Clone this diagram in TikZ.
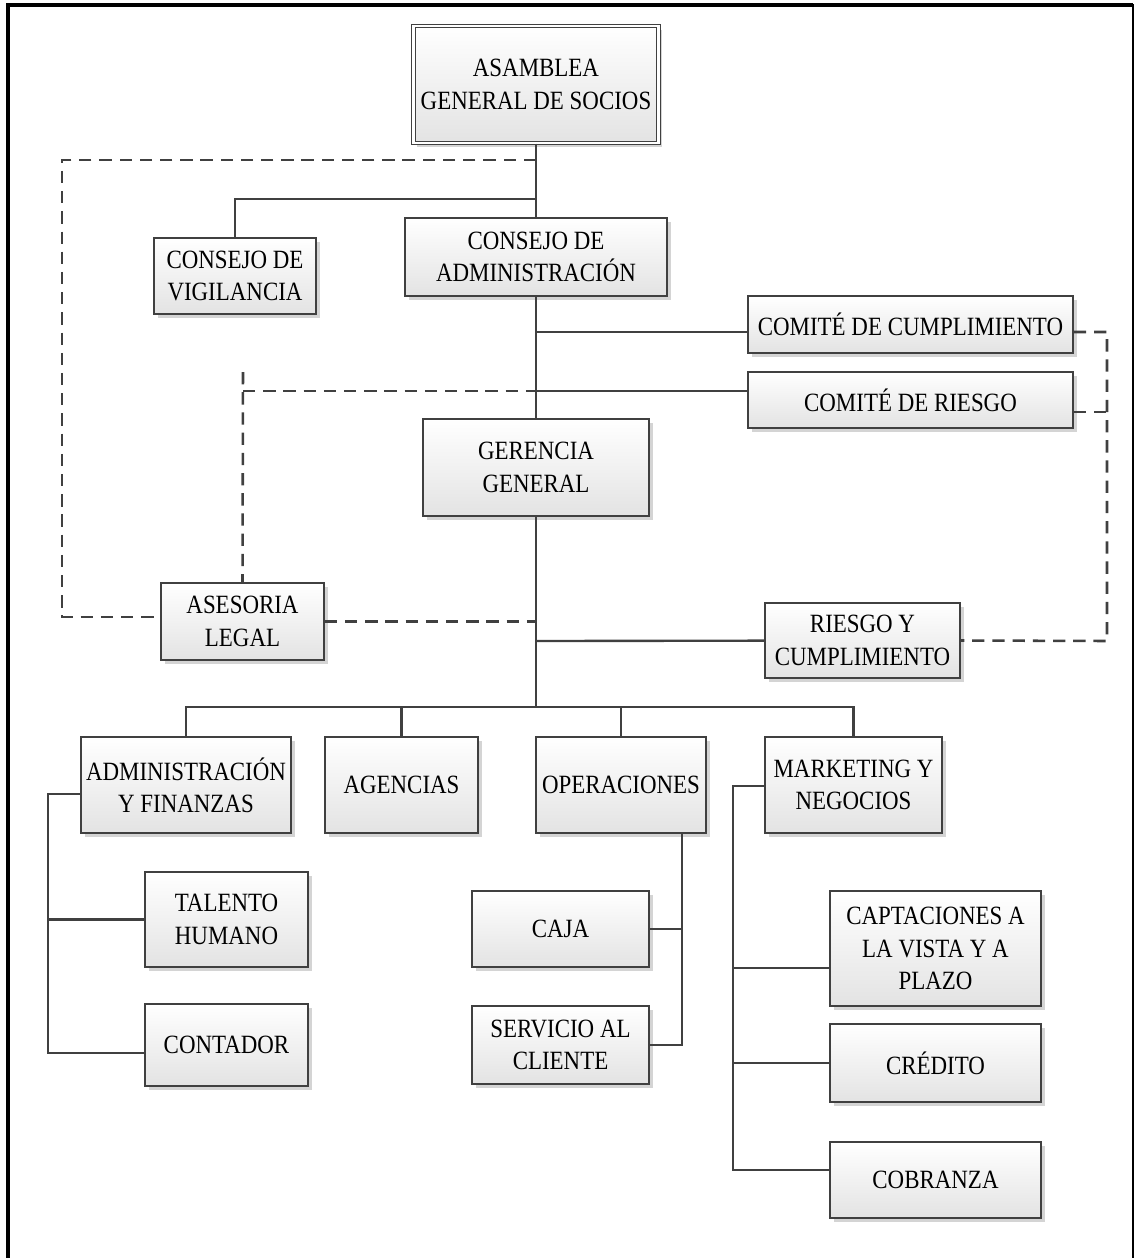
\documentclass[tikz,border=0pt]{standalone}
\usepackage{fontspec}
\setmainfont{Liberation Serif}[FakeStretch=0.87]
\definecolor{lngray}{HTML}{404040}
\definecolor{shgray}{HTML}{D4D4D4}
\usepackage{tikz}
\usetikzlibrary{shadows}

\begin{document}
\begin{tikzpicture}[
  x=0.02cm, y=-0.02cm,
  orgbox/.style={draw=lngray, line width=0.95pt, top color=white, bottom color=black!11,
    drop shadow={shadow xshift=2.2pt, shadow yshift=-2.2pt, fill=shgray, opacity=1},
    font=\fontsize{15pt}{18.4pt}\selectfont, align=center, inner sep=0pt,
    minimum width=#1},
  link/.style={draw=lngray, line width=1.35pt},
  dlink/.style={draw=lngray, line width=1.45pt, dash pattern=on 7pt off 4.5pt}
]
  \useasboundingbox (0,0) rectangle (1135,1258);
  % frame, open at the bottom
  \draw[line width=2.4pt] (8,1258) -- (8,5) -- (1133,5);
  \draw[line width=1.6pt] (1133,4) -- (1133,1258);

  % upper levels
  \node[orgbox=4.9cm, minimum height=2.34cm, double=white, double distance=1.3pt,
    line width=0.7pt] (asam) at (536,84.5) {ASAMBLEA\\GENERAL DE SOCIOS};
  \node[orgbox=3.24cm, minimum height=1.52cm] (vigil) at (235,276) {CONSEJO DE\\VIGILANCIA};
  \node[orgbox=5.24cm, minimum height=1.56cm] (cadm) at (536,257) {CONSEJO DE\\ADMINISTRACIÓN};
  \node[orgbox=6.5cm, minimum height=1.14cm] (ccump) at (910.5,324.5) {COMITÉ DE CUMPLIMIENTO};
  \node[orgbox=6.5cm, minimum height=1.12cm] (crsg) at (910.5,400) {COMITÉ DE RIESGO};
  \node[orgbox=4.52cm, minimum height=1.94cm] (geren) at (536,467.5) {GERENCIA\\GENERAL};
  \node[orgbox=3.26cm, minimum height=1.54cm] (ases) at (242.5,621.5) {ASESORIA\\LEGAL};
  \node[orgbox=3.9cm, minimum height=1.5cm] (ryc) at (862.5,640.5) {RIESGO Y\\CUMPLIMIENTO};

  % departments
  \node[orgbox=4.2cm, minimum height=1.92cm] (adfin) at (186,785) {ADMINISTRACIÓN\\Y FINANZAS};
  \node[orgbox=3.06cm, minimum height=1.92cm] (agen) at (401.5,785) {AGENCIAS};
  \node[orgbox=3.4cm, minimum height=1.92cm] (oper) at (621,785) {OPERACIONES};
  \node[orgbox=3.54cm, minimum height=1.92cm] (mkt) at (853.5,785) {MARKETING Y\\NEGOCIOS};

  % sections
  \node[orgbox=3.26cm, minimum height=1.9cm] (talen) at (226.5,919.5) {TALENTO\\HUMANO};
  \node[orgbox=3.26cm, minimum height=1.64cm] (conta) at (226.5,1045) {CONTADOR};
  \node[orgbox=3.54cm, minimum height=1.52cm] (caja) at (560.5,929) {CAJA};
  \node[orgbox=3.54cm, minimum height=1.56cm] (serv) at (560.5,1045) {SERVICIO AL\\CLIENTE};
  \node[orgbox=4.22cm, minimum height=2.3cm] (capt) at (935.5,948.5) {CAPTACIONES A\\LA VISTA Y A\\PLAZO};
  \node[orgbox=4.22cm, minimum height=1.56cm] (cred) at (935.5,1063) {CRÉDITO};
  \node[orgbox=4.22cm, minimum height=1.52cm] (cobr) at (935.5,1180) {COBRANZA};

  % junctions
  \coordinate (jd) at (536,160);
  \coordinate (jv) at (536,199);
  \coordinate (jc) at (536,332);
  \coordinate (jr) at (536,391);
  \coordinate (jq) at (536,641);
  \coordinate (bus) at (536,707);
  \coordinate (dl) at (62,617);
  \coordinate (dt) at (243,372);
  \coordinate (dr) at (1107,641);
  \coordinate (dm) at (1107,412);
  \coordinate (ja) at (48,794);
  \coordinate (jo) at (682,833);
  \coordinate (jm) at (733,786);

  % main line
  \draw[link] (asam) -- (cadm);
  \draw[link] (cadm) -- (geren);
  \draw[link] (geren) -- (bus);
  \draw[link] (jv) -| (vigil.north);
  \draw[link] (jc) -- (ccump.west |- jc);
  \draw[link] (jr) -- (crsg.west |- jr);
  \draw[link] (jq) -- (ryc);

  % dashed links
  \draw[dlink] (jd) -| (dl) -- (ases.west |- dl);
  \draw[dlink] (ases.east) -- (ases.east -| bus);
  \draw[dlink] (dt) -- (ases.north);
  \draw[dlink] (dt |- jr) -- (jr);
  \draw[dlink] (ccump.east |- jc) -| (dr) -- (ryc.east);
  \draw[dlink] (crsg.east |- dm) -- (dm);

  % departments
  \draw[link] (adfin.north) |- (bus) -| (mkt.north);
  \draw[link] (agen.north) -- (agen.north |- bus);
  \draw[link] (oper.north) -- (oper.north |- bus);

  % sections
  \draw[link] (adfin.west |- ja) -- (ja) |- (conta.west |- 0,1053);
  \draw[link] (ja) |- (talen.west);
  \draw[link] (jo) |- (serv.east);
  \draw[link] (caja.east) -- (caja.east -| jo);
  \draw[link] (mkt.west |- jm) -- (jm) |- (cobr.west |- 0,1170);
  \draw[link] (jm) |- (capt.west |- 0,968);
  \draw[link] (jm) |- (cred.west);
\end{tikzpicture}
\end{document}
